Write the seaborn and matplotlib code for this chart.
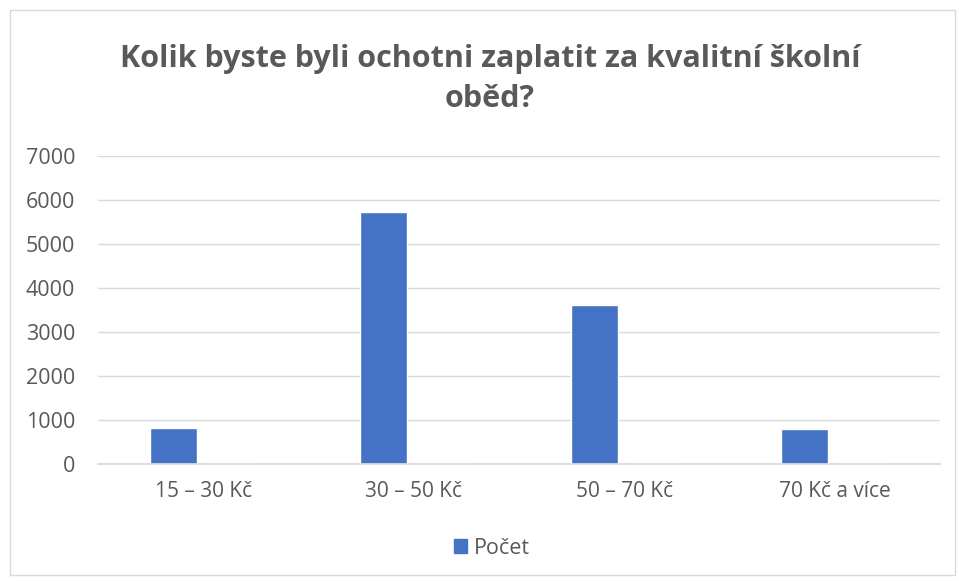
import matplotlib
matplotlib.use("Agg")
import matplotlib.pyplot as plt
import seaborn as sns
import pandas as pd
from matplotlib.patches import Rectangle

# data
categories = ["15 – 30 Kč", "30 – 50 Kč", "50 – 70 Kč", "70 Kč a více"]
counts = [810, 5720, 3600, 790]
series_name = "Počet"
title = "Kolik byste byli ochotni zaplatit za kvalitní školní\noběd?"

sns.set_theme(style="white")
plt.rcParams['font.family'] = ['Open Sans', 'DejaVu Sans']

gray = "#595959"
blue = "#4472C4"

# second (empty) series keeps the Excel-like offset of the bar in each category
df = pd.DataFrame({
    "kategorie": categories * 2,
    "pocet": counts + [0] * len(counts),
    "serie": [series_name] * len(counts) + ["_empty"] * len(counts),
})

fig = plt.figure(figsize=(9.59, 5.81), dpi=100)
ax = fig.add_axes([98/959, 1 - 464/581, (940 - 98)/959, (464 - 155.5)/581])

sns.barplot(data=df, x="kategorie", y="pocet", hue="serie", palette=[blue, blue],
            width=0.57, gap=0.22, ax=ax, legend=False, saturation=1)

ax.set_ylim(0, 7000)
ax.set_yticks(range(0, 7001, 1000))
ax.set_xlim(-0.5, 3.5)
ax.yaxis.grid(True, color="#d9d9d9", lw=1)
ax.set_axisbelow(True)
for s in ["top", "right", "left"]:
    ax.spines[s].set_visible(False)
ax.spines["bottom"].set_color("#d9d9d9")
ax.tick_params(axis="both", colors=gray, length=0)
ax.tick_params(axis="y", pad=16.5, labelsize=15.5)
ax.tick_params(axis="x", pad=12, labelsize=15)
ax.set_xlabel("")
ax.set_ylabel("")

fig.text(490/959, 1 - 79/581, title, ha="center", va="center", fontsize=22,
         fontweight="bold", color=gray, linespacing=1.4)

handle = Rectangle((0, 0), 1, 1, color=blue)
fig.legend([handle], [series_name], loc="center", bbox_to_anchor=(492/959, 1 - 548/581),
           frameon=False, fontsize=15.5, labelcolor=gray, handlelength=0.6,
           handleheight=0.6, handletextpad=0.3)

# outer chart border
fig.patches.append(Rectangle((10/959, 6/581), 945/959, 565/581, transform=fig.transFigure,
                             fill=False, edgecolor="#d9d9d9", lw=1))

fig.savefig("out.png", dpi=100)
